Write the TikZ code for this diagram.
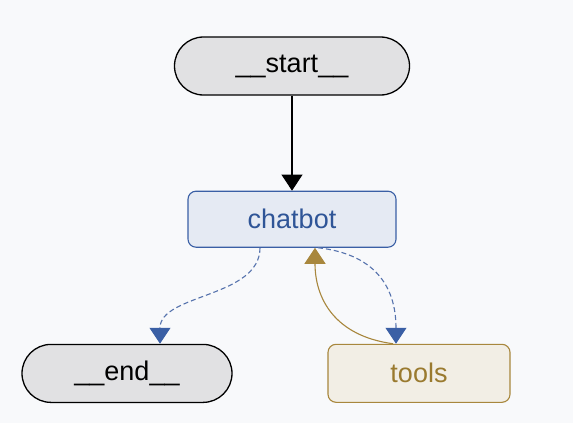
\documentclass[tikz,border=0pt]{standalone}
\usepackage{fontspec}
\setmainfont{Liberation Sans}
\usepackage{tikz}
\usetikzlibrary{arrows.meta, positioning}
\definecolor{bgcol}{HTML}{F8F9FB}
\definecolor{termfill}{HTML}{E1E1E3}
\definecolor{chatfill}{HTML}{E5EAF3}
\definecolor{chatline}{HTML}{3A5FA5}
\definecolor{chattext}{HTML}{2F5597}
\definecolor{condline}{HTML}{5673AD}
\definecolor{condtip}{HTML}{3A5FA5}
\definecolor{toolfill}{HTML}{F2EEE5}
\definecolor{toolline}{HTML}{A8873D}
\definecolor{tooltext}{HTML}{9A7A2F}
\tikzstyle{arrow}=[-{Triangle[length=16pt,width=21pt]}, line width=1.1pt]

\begin{document}
\begin{tikzpicture}[x=1pt, y=-1pt,
  term/.style={rectangle, rounded corners=29pt, draw=black, line width=1.3pt,
               fill=termfill, minimum height=58pt, align=center,
               font=\fontsize{27}{31}\selectfont},
  chat/.style={rectangle, rounded corners=8pt, draw=chatline, line width=1.1pt,
               fill=chatfill, minimum width=208pt, minimum height=56pt,
               text=chattext, font=\fontsize{27}{31}\selectfont},
  tool/.style={rectangle, rounded corners=8pt, draw=toolline, line width=1.1pt,
               fill=toolfill, minimum width=182pt, minimum height=58pt,
               text=tooltext, font=\fontsize{27}{31}\selectfont},
  cond/.style={-{Triangle[length=16pt,width=21pt,color=condtip]}, line width=1.1pt,
               dash pattern=on 5pt off 3pt, draw=condline}
]
\fill[bgcol] (0,0) rectangle (573,423);
\useasboundingbox (0,0) rectangle (573,423);

% Nodes
\node[term, minimum width=235pt] (start) at (292,66) {\_\_start\_\_};
\node[chat, below=95pt of start] (chatbot) {chatbot};
\node[term, minimum width=210pt, below=96pt of chatbot, xshift=-165pt] (end) {\_\_end\_\_};
\node[tool, below=96pt of chatbot, xshift=127pt] (tools) {tools};

% Edges
\draw[arrow] (start) -- (chatbot);
\draw[cond] ([xshift=-32pt]chatbot.south) .. controls ([xshift=-32pt,yshift=-50pt]chatbot.south)
  and ([xshift=33pt,yshift=50pt]end.north) .. ([xshift=33pt]end.north);
\draw[cond] ([xshift=26pt]chatbot.south) .. controls ([xshift=80pt,yshift=-6pt]chatbot.south)
  and ([xshift=-23pt,yshift=60pt]tools.north) .. ([xshift=-23pt]tools.north);
\draw[arrow, draw=toolline] ([xshift=-26pt]tools.north)
  .. controls ([xshift=-85pt,yshift=8pt]tools.north)
  and ([xshift=23pt,yshift=-50pt]chatbot.south) .. ([xshift=23pt]chatbot.south);
\end{tikzpicture}
\end{document}
